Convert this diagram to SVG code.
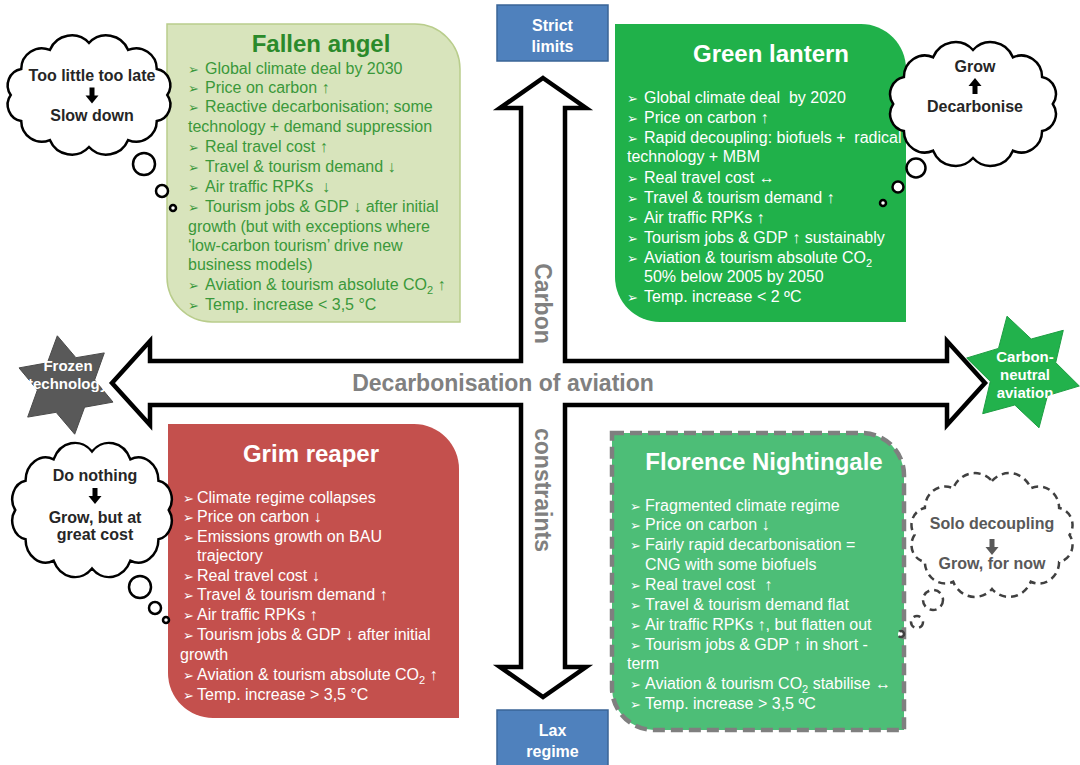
<svg xmlns="http://www.w3.org/2000/svg" width="1080" height="765" viewBox="0 0 1080 765">
<defs>
<style>
text { font-family: "Liberation Sans", Arial, sans-serif; white-space: pre; }
.body { font-size: 16px; }
.bl { font-family: "DejaVu Sans", sans-serif; font-size: 13px; }
.title { font-size: 24px; font-weight: bold; text-anchor: middle; }
.fa { fill: #3a983a; }
.fa-t { fill: #2b8a2b; }
.wt { fill: #ffffff; }
.cloud { fill: #ffffff; stroke: #000000; stroke-width: 2.5; }
.cloud-d { fill: #ffffff; stroke: #404040; stroke-width: 2.5; stroke-dasharray: 7 5; }
.ct { font-size: 16px; font-weight: bold; fill: #262626; text-anchor: middle; }
.ct-g { font-size: 16px; font-weight: bold; fill: #595959; text-anchor: middle; }
.ax { fill: #808080; font-weight: bold; font-size: 23px; text-anchor: middle; }
.star-t { font-size: 15px; font-weight: bold; fill: #ffffff; text-anchor: middle; }
.tag { fill: #4f81bd; stroke: #3a6496; stroke-width: 1.5; }
.tag-t { font-size: 16px; font-weight: bold; fill: #ffffff; text-anchor: middle; }
</style>
<path id="cloud" vector-effect="non-scaling-stroke" d="M 0 -50 A 23 23 0 0 1 38 -43.3 A 20 20 0 0 1 65.8 -25 A 16 16 0 0 1 76 0 A 16 16 0 0 1 65.8 25 A 20 20 0 0 1 38 43.3 A 23 23 0 0 1 0 50 A 23 23 0 0 1 -38 43.3 A 20 20 0 0 1 -65.8 25 A 16 16 0 0 1 -76 0 A 16 16 0 0 1 -65.8 -25 A 20 20 0 0 1 -38 -43.3 A 23 23 0 0 1 0 -50 Z"/>
<path id="dn" d="M-2.5 -8H2.5V0H6.5L0 8L-6.5 0H-2.5Z"/>
</defs>
<rect width="1080" height="765" fill="#ffffff"/>

<g id="fallen-angel">
<path d="M167 24H415A45 45 0 0 1 460 69V322H212A45 45 0 0 1 167 277Z" fill="#d8e4bc" stroke="#b9cd8c" stroke-width="1.5"/>
<text class="title fa-t" x="321" y="52">Fallen angel</text>
<g class="body fa">
<text y="74"><tspan class="bl" x="188">➢</tspan><tspan x="205">Global climate deal by 2030</tspan></text>
<text y="93"><tspan class="bl" x="188">➢</tspan><tspan x="205">Price on carbon ↑</tspan></text>
<text y="112"><tspan class="bl" x="188">➢</tspan><tspan x="205">Reactive decarbonisation; some</tspan></text>
<text y="132" x="188">technology + demand suppression</text>
<text y="152"><tspan class="bl" x="188">➢</tspan><tspan x="205">Real travel cost ↑</tspan></text>
<text y="172"><tspan class="bl" x="188">➢</tspan><tspan x="205">Travel &amp; tourism demand ↓</tspan></text>
<text y="192"><tspan class="bl" x="188">➢</tspan><tspan x="205">Air traffic RPKs  ↓</tspan></text>
<text y="212"><tspan class="bl" x="188">➢</tspan><tspan x="205">Tourism jobs &amp; GDP ↓ after initial</tspan></text>
<text y="232" x="188">growth (but with exceptions where</text>
<text y="251" x="188">‘low-carbon tourism’ drive new</text>
<text y="270" x="188">business models)</text>
<text y="290"><tspan class="bl" x="188">➢</tspan><tspan x="205">Aviation &amp; tourism absolute CO</tspan><tspan font-size="11" dy="4">2</tspan><tspan dy="-4"> ↑</tspan></text>
<text y="310"><tspan class="bl" x="188">➢</tspan><tspan x="205">Temp. increase &lt; 3,5 °C</tspan></text>
</g>
</g>

<g id="green-lantern">
<path d="M615 24H861A45 45 0 0 1 906 69V322H660A45 45 0 0 1 615 277Z" fill="#20b14a"/>
<text class="title wt" x="771" y="62">Green lantern</text>
<g class="body wt">
<text y="103"><tspan class="bl" x="627">➢</tspan><tspan x="644">Global climate deal  by 2020</tspan></text>
<text y="123"><tspan class="bl" x="627">➢</tspan><tspan x="644">Price on carbon ↑</tspan></text>
<text y="143"><tspan class="bl" x="627">➢</tspan><tspan x="644">Rapid decoupling: biofuels +  radical</tspan></text>
<text y="162" x="627">technology + MBM</text>
<text y="183"><tspan class="bl" x="627">➢</tspan><tspan x="644">Real travel cost ↔</tspan></text>
<text y="203"><tspan class="bl" x="627">➢</tspan><tspan x="644">Travel &amp; tourism demand ↑</tspan></text>
<text y="223"><tspan class="bl" x="627">➢</tspan><tspan x="644">Air traffic RPKs ↑</tspan></text>
<text y="243"><tspan class="bl" x="627">➢</tspan><tspan x="644">Tourism jobs &amp; GDP ↑ sustainably</tspan></text>
<text y="263"><tspan class="bl" x="627">➢</tspan><tspan x="644">Aviation &amp; tourism absolute CO</tspan><tspan font-size="11" dy="4">2</tspan></text>
<text y="282" x="644">50% below 2005 by 2050</text>
<text y="302"><tspan class="bl" x="627">➢</tspan><tspan x="644">Temp. increase &lt; 2 ºC</tspan></text>
</g>
</g>

<g id="grim-reaper">
<path d="M168 424H414A45 45 0 0 1 459 469V718H213A45 45 0 0 1 168 673Z" fill="#c4504d"/>
<text class="title wt" x="311" y="462">Grim reaper</text>
<g class="body wt">
<text y="503"><tspan class="bl" x="183">➢</tspan><tspan x="197">Climate regime collapses</tspan></text>
<text y="522"><tspan class="bl" x="183">➢</tspan><tspan x="197">Price on carbon ↓</tspan></text>
<text y="542"><tspan class="bl" x="183">➢</tspan><tspan x="197">Emissions growth on BAU</tspan></text>
<text y="561" x="197">trajectory</text>
<text y="581"><tspan class="bl" x="183">➢</tspan><tspan x="197">Real travel cost ↓</tspan></text>
<text y="600"><tspan class="bl" x="183">➢</tspan><tspan x="197">Travel &amp; tourism demand ↑</tspan></text>
<text y="620"><tspan class="bl" x="183">➢</tspan><tspan x="197">Air traffic RPKs ↑</tspan></text>
<text y="640"><tspan class="bl" x="183">➢</tspan><tspan x="197">Tourism jobs &amp; GDP ↓ after initial</tspan></text>
<text y="660" x="180">growth</text>
<text y="680"><tspan class="bl" x="183">➢</tspan><tspan x="197">Aviation &amp; tourism absolute CO</tspan><tspan font-size="11" dy="4">2</tspan><tspan dy="-4"> ↑</tspan></text>
<text y="700"><tspan class="bl" x="183">➢</tspan><tspan x="197">Temp. increase &gt; 3,5 °C</tspan></text>
</g>
</g>

<g id="florence-nightingale">
<path d="M612 433H862A42 42 0 0 1 904 475V730H654A42 42 0 0 1 612 688Z" fill="#4dbe77" stroke="#7f7f7f" stroke-width="4.5" stroke-dasharray="12 6"/>
<text class="title wt" x="764" y="470">Florence Nightingale</text>
<g class="body wt">
<text y="511"><tspan class="bl" x="630">➢</tspan><tspan x="645">Fragmented climate regime</tspan></text>
<text y="530"><tspan class="bl" x="630">➢</tspan><tspan x="645">Price on carbon ↓</tspan></text>
<text y="550"><tspan class="bl" x="630">➢</tspan><tspan x="645">Fairly rapid decarbonisation =</tspan></text>
<text y="570" x="645">CNG with some biofuels</text>
<text y="590"><tspan class="bl" x="630">➢</tspan><tspan x="645">Real travel cost  ↑</tspan></text>
<text y="610"><tspan class="bl" x="630">➢</tspan><tspan x="645">Travel &amp; tourism demand flat</tspan></text>
<text y="630"><tspan class="bl" x="630">➢</tspan><tspan x="645">Air traffic RPKs ↑, but flatten out</tspan></text>
<text y="650"><tspan class="bl" x="630">➢</tspan><tspan x="645">Tourism jobs &amp; GDP ↑ in short -</tspan></text>
<text y="669" x="627">term</text>
<text y="689"><tspan class="bl" x="630">➢</tspan><tspan x="645">Aviation &amp; tourism CO</tspan><tspan font-size="11" dy="4">2</tspan><tspan dy="-4"> stabilise ↔</tspan></text>
<text y="709"><tspan class="bl" x="630">➢</tspan><tspan x="645">Temp. increase &gt; 3,5 ºC</tspan></text>
</g>
</g>

<g id="frozen-technology">
<polygon points="57.3,335.8 75.9,357.7 104.3,352.9 94.6,380 113,402.1 84.6,407.2 74.7,434.2 56.1,412.3 27.7,417.1 37.4,390 19,367.9 47.4,362.8" fill="#595959" stroke="#4a4a4a" stroke-width="1"/>
<text class="star-t" x="68" y="371" font-size="16" fill="#e8e8e8">Frozen</text>
<text class="star-t" x="68" y="389" font-size="16" fill="#e8e8e8">technology</text>
</g>

<g id="carbon-neutral-aviation">
<polygon points="1007,316.2 1031.2,339 1063.3,330.3 1055.7,362.6 1079.3,386 1047.5,395.6 1039,427.8 1014.8,405 982.7,413.7 990.3,381.4 966.7,358 998.5,348.4" fill="#22b24c" stroke="#1e9e43" stroke-width="1"/>
<text class="star-t" x="1025" y="362">Carbon-</text>
<text class="star-t" x="1025" y="380">neutral</text>
<text class="star-t" x="1025" y="398">aviation</text>
</g>

<g id="connectors">
<path d="M543 78 L586 108 H565 V361 H947 V341 L985 383 L947 425 V405 H565 V667 H586 L543 697 L500 667 H521 V405 H150 V425 L112 383 L150 341 V361 H521 V108 H500 Z" fill="#ffffff" stroke="#000000" stroke-width="4.5" stroke-linejoin="miter"/>
<text class="ax" font-size="24" transform="translate(535 303.5) rotate(90)">Carbon</text>
<text class="ax" font-size="24" transform="translate(535 490) rotate(90)">constraints</text>
<text class="ax" x="503" y="391">Decarbonisation of aviation</text>
</g>

<g id="strict-limits">
<rect class="tag" x="497" y="5" width="111" height="56"/>
<text class="tag-t" x="552.5" y="31">Strict</text>
<text class="tag-t" x="552.5" y="52">limits</text>
</g>

<g id="lax-regime">
<rect class="tag" x="497" y="710" width="111" height="60"/>
<text class="tag-t" x="552.5" y="736">Lax</text>
<text class="tag-t" x="552.5" y="757">regime</text>
</g>

<g id="thought-fallen-angel">
<use href="#cloud" class="cloud" transform="translate(89 95) scale(1.03 1.04)"/>
<circle class="cloud" cx="144" cy="164" r="11"/>
<circle class="cloud" cx="162" cy="191" r="6"/>
<circle class="cloud" cx="173" cy="208" r="3"/>
<text class="ct" x="92" y="81">Too little too late</text>
<use href="#dn" fill="#000000" transform="translate(92 95.5)"/>
<text class="ct" x="92" y="121">Slow down</text>
</g>

<g id="thought-green-lantern">
<use href="#cloud" class="cloud" transform="translate(973 104) scale(1.05 1.08)"/>
<circle class="cloud" cx="916" cy="168" r="9.5"/>
<circle class="cloud" cx="898" cy="187" r="5.5"/>
<circle class="cloud" cx="883" cy="203" r="3"/>
<text class="ct" x="975" y="72">Grow</text>
<use href="#dn" fill="#000000" transform="translate(975 86) rotate(180)"/>
<text class="ct" x="975" y="112">Decarbonise</text>
</g>

<g id="thought-grim-reaper">
<use href="#cloud" class="cloud" transform="translate(92 510) scale(1.01 1.17)"/>
<circle class="cloud" cx="140" cy="587" r="11"/>
<circle class="cloud" cx="155" cy="608" r="6"/>
<circle class="cloud" cx="166" cy="620" r="3"/>
<text class="ct" x="95" y="481">Do nothing</text>
<use href="#dn" fill="#000000" transform="translate(95 496)"/>
<text class="ct" x="95" y="523">Grow, but at</text>
<text class="ct" x="95" y="540">great cost</text>
</g>

<g id="thought-florence-nightingale">
<use href="#cloud" class="cloud-d" transform="translate(992 535) scale(1.02 1.08)"/>
<circle class="cloud-d" cx="933" cy="600" r="10"/>
<circle class="cloud-d" cx="917" cy="622" r="6"/>
<circle class="cloud-d" cx="901" cy="634" r="3"/>
<text class="ct-g" x="992" y="529">Solo decoupling</text>
<use href="#dn" fill="#595959" transform="translate(992 547)"/>
<text class="ct-g" x="992" y="569">Grow, for now</text>
</g>
</svg>
